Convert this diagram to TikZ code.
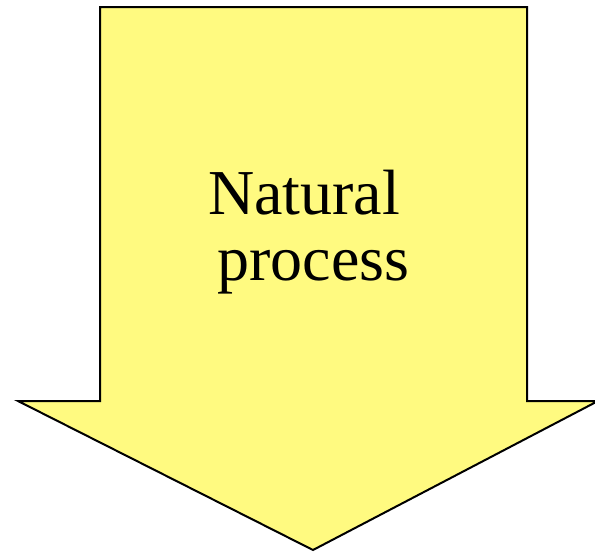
\documentclass[tikz,border=0pt]{standalone}
\usepackage{fontspec}
\setmainfont{Liberation Serif}
\definecolor{arrowyellow}{RGB}{255,250,128}
\tikzset{bigarrow/.style={draw=black,fill=arrowyellow,line width=2pt,line join=miter},
  label/.style={font=\fontsize{64}{72}\selectfont,inner sep=0pt,anchor=base}}
\begin{document}
\begin{tikzpicture}[x=1pt,y=-1pt]
\useasboundingbox (0,0) rectangle (595,552);
\draw[bigarrow] (100,7) -- (527,7) -- (527,401) -- (598,401) -- (313,550) -- (18,401) -- (100,401) -- cycle;
\node[label] (t1) at (304,214) {Natural};
\node[label] (t2) at (313.5,280) {process};
\end{tikzpicture}
\end{document}
